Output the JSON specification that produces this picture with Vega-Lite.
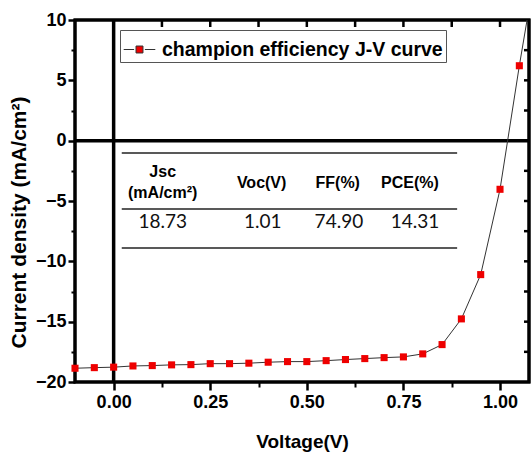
{
  "$schema": "https://vega.github.io/schema/vega-lite/v6.json",
  "width": 454,
  "height": 362,
  "autosize": "none",
  "padding": {"left": 75, "top": 20, "right": 3, "bottom": 70},
  "background": "white",
  "datasets": {
    "curve": [
      {"v": -0.1, "j": -18.86, "series": "champion efficiency J-V curve"},
      {"v": -0.05, "j": -18.81, "series": "champion efficiency J-V curve"},
      {"v": 0.0, "j": -18.77, "series": "champion efficiency J-V curve"},
      {"v": 0.05, "j": -18.67, "series": "champion efficiency J-V curve"},
      {"v": 0.1, "j": -18.64, "series": "champion efficiency J-V curve"},
      {"v": 0.15, "j": -18.58, "series": "champion efficiency J-V curve"},
      {"v": 0.2, "j": -18.56, "series": "champion efficiency J-V curve"},
      {"v": 0.25, "j": -18.48, "series": "champion efficiency J-V curve"},
      {"v": 0.3, "j": -18.48, "series": "champion efficiency J-V curve"},
      {"v": 0.35, "j": -18.44, "series": "champion efficiency J-V curve"},
      {"v": 0.4, "j": -18.36, "series": "champion efficiency J-V curve"},
      {"v": 0.45, "j": -18.31, "series": "champion efficiency J-V curve"},
      {"v": 0.5, "j": -18.31, "series": "champion efficiency J-V curve"},
      {"v": 0.55, "j": -18.23, "series": "champion efficiency J-V curve"},
      {"v": 0.6, "j": -18.14, "series": "champion efficiency J-V curve"},
      {"v": 0.65, "j": -18.06, "series": "champion efficiency J-V curve"},
      {"v": 0.7, "j": -17.98, "series": "champion efficiency J-V curve"},
      {"v": 0.75, "j": -17.92, "series": "champion efficiency J-V curve"},
      {"v": 0.8, "j": -17.67, "series": "champion efficiency J-V curve"},
      {"v": 0.85, "j": -16.9, "series": "champion efficiency J-V curve"},
      {"v": 0.9, "j": -14.77, "series": "champion efficiency J-V curve"},
      {"v": 0.95, "j": -11.1, "series": "champion efficiency J-V curve"},
      {"v": 1.0, "j": -4.03, "series": "champion efficiency J-V curve"},
      {"v": 1.05, "j": 6.21, "series": "champion efficiency J-V curve"},
      {"v": 1.1, "j": 15.7, "series": "champion efficiency J-V curve"}
    ],
    "tablelines": [
      {"x1": 0.021, "x2": 0.889, "y": -1.02},
      {"x1": 0.021, "x2": 0.889, "y": -5.66},
      {"x1": 0.021, "x2": 0.889, "y": -8.89}
    ],
    "header": [
      {"x": 0.127, "y": -2.59, "label": "Jsc"},
      {"x": 0.127, "y": -4.33, "label": "(mA/cm²)"},
      {"x": 0.383, "y": -3.5, "label": "Voc(V)"},
      {"x": 0.58, "y": -3.5, "label": "FF(%)"},
      {"x": 0.767, "y": -3.5, "label": "PCE(%)"}
    ],
    "cells": [
      {"x": 0.127, "y": -6.74, "label": "18.73"},
      {"x": 0.386, "y": -6.74, "label": "1.01"},
      {"x": 0.583, "y": -6.74, "label": "74.90"},
      {"x": 0.78, "y": -6.74, "label": "14.31"}
    ],
    "frame": [
      {"seg": "f", "o": 0, "x": -0.1, "y": -20},
      {"seg": "f", "o": 1, "x": 1.075, "y": -20},
      {"seg": "f", "o": 2, "x": 1.075, "y": 10},
      {"seg": "f", "o": 3, "x": -0.1, "y": 10},
      {"seg": "f", "o": 4, "x": -0.1, "y": -20}
    ],
    "ticks": [
      {"seg": "t1", "o": 0, "x": 0.125, "y": 10}, {"seg": "t1", "o": 1, "x": 0.125, "y": 9.42},
      {"seg": "t2", "o": 0, "x": 0.25, "y": 10}, {"seg": "t2", "o": 1, "x": 0.25, "y": 9.42},
      {"seg": "t3", "o": 0, "x": 0.375, "y": 10}, {"seg": "t3", "o": 1, "x": 0.375, "y": 9.42},
      {"seg": "t4", "o": 0, "x": 0.5, "y": 10}, {"seg": "t4", "o": 1, "x": 0.5, "y": 9.42},
      {"seg": "t5", "o": 0, "x": 0.625, "y": 10}, {"seg": "t5", "o": 1, "x": 0.625, "y": 9.42},
      {"seg": "t6", "o": 0, "x": 0.75, "y": 10}, {"seg": "t6", "o": 1, "x": 0.75, "y": 9.42},
      {"seg": "t7", "o": 0, "x": 0.875, "y": 10}, {"seg": "t7", "o": 1, "x": 0.875, "y": 9.42},
      {"seg": "t8", "o": 0, "x": 1.0, "y": 10}, {"seg": "t8", "o": 1, "x": 1.0, "y": 9.42},
      {"seg": "r1", "o": 0, "x": 1.075, "y": -17.5}, {"seg": "r1", "o": 1, "x": 1.062, "y": -17.5},
      {"seg": "r2", "o": 0, "x": 1.075, "y": -15}, {"seg": "r2", "o": 1, "x": 1.062, "y": -15},
      {"seg": "r3", "o": 0, "x": 1.075, "y": -12.5}, {"seg": "r3", "o": 1, "x": 1.062, "y": -12.5},
      {"seg": "r4", "o": 0, "x": 1.075, "y": -10}, {"seg": "r4", "o": 1, "x": 1.062, "y": -10},
      {"seg": "r5", "o": 0, "x": 1.075, "y": -7.5}, {"seg": "r5", "o": 1, "x": 1.062, "y": -7.5},
      {"seg": "r6", "o": 0, "x": 1.075, "y": -5}, {"seg": "r6", "o": 1, "x": 1.062, "y": -5},
      {"seg": "r7", "o": 0, "x": 1.075, "y": -2.5}, {"seg": "r7", "o": 1, "x": 1.062, "y": -2.5},
      {"seg": "r8", "o": 0, "x": 1.075, "y": 2.5}, {"seg": "r8", "o": 1, "x": 1.062, "y": 2.5},
      {"seg": "r9", "o": 0, "x": 1.075, "y": 5}, {"seg": "r9", "o": 1, "x": 1.062, "y": 5},
      {"seg": "r10", "o": 0, "x": 1.075, "y": 7.5}, {"seg": "r10", "o": 1, "x": 1.062, "y": 7.5}
    ]
  },
  "layer": [
    {
      "data": {"values": [{}]},
      "mark": {"type": "rule", "stroke": "black", "strokeWidth": 3.5},
      "encoding": {
        "y": {"datum": 0, "type": "quantitative", "scale": {"domain": [-20, 10], "nice": false, "zero": false}, "axis": null}
      }
    },
    {
      "data": {"values": [{}]},
      "mark": {"type": "rule", "stroke": "black", "strokeWidth": 3.5},
      "encoding": {
        "x": {"datum": 0, "type": "quantitative", "scale": {"domain": [-0.1, 1.075], "nice": false, "zero": false}, "axis": null}
      }
    },
    {
      "data": {"name": "frame"},
      "mark": {"type": "line", "stroke": "black", "strokeWidth": 3, "strokeCap": "square", "strokeJoin": "miter"},
      "encoding": {
        "x": {"field": "x", "type": "quantitative", "axis": null},
        "y": {"field": "y", "type": "quantitative", "axis": null},
        "order": {"field": "o"},
        "detail": {"field": "seg"}
      }
    },
    {
      "data": {"name": "ticks"},
      "mark": {"type": "line", "stroke": "black", "strokeWidth": 2.5},
      "encoding": {
        "x": {"field": "x", "type": "quantitative", "axis": null},
        "y": {"field": "y", "type": "quantitative", "axis": null},
        "order": {"field": "o"},
        "detail": {"field": "seg"}
      }
    },
    {
      "data": {"name": "tablelines"},
      "mark": {"type": "rule", "stroke": "#222", "strokeWidth": 1.5},
      "encoding": {
        "x": {"field": "x1", "type": "quantitative", "axis": null},
        "x2": {"field": "x2"},
        "y": {"field": "y", "type": "quantitative", "axis": null}
      }
    },
    {
      "data": {"name": "header"},
      "mark": {"type": "text", "font": "Liberation Sans", "fontWeight": "bold", "fontSize": 16, "color": "black", "align": "center", "baseline": "middle"},
      "encoding": {
        "x": {"field": "x", "type": "quantitative", "axis": null},
        "y": {"field": "y", "type": "quantitative", "axis": null},
        "text": {"field": "label"}
      }
    },
    {
      "data": {"name": "cells"},
      "mark": {"type": "text", "font": "Lato", "fontSize": 19, "color": "#111", "align": "center", "baseline": "middle"},
      "encoding": {
        "x": {"field": "x", "type": "quantitative", "axis": null},
        "y": {"field": "y", "type": "quantitative", "axis": null},
        "text": {"field": "label"}
      }
    },
    {
      "data": {"name": "curve"},
      "mark": {"type": "line", "stroke": "#333", "strokeWidth": 1, "clip": true},
      "encoding": {
        "x": {"field": "v", "type": "quantitative",
          "axis": {"orient": "bottom", "domain": false, "ticks": true, "tickColor": "black", "tickWidth": 2.5, "tickSize": 8, "values": [0, 0.25, 0.5, 0.75, 1.0], "format": ".2f", "labelFontSize": 18, "labelPadding": 3, "labelFlush": false,
            "title": "Voltage(V)", "titleFontSize": 19, "titlePadding": 21}},
        "y": {"field": "j", "type": "quantitative",
          "axis": {"orient": "left", "domain": false, "ticks": true, "tickColor": "black", "tickWidth": 2.5, "tickSize": 7, "values": [-20, -15, -10, -5, 0, 5, 10], "labelFontSize": 18, "labelPadding": 2,
            "title": "Current density (mA/cm²)", "titleFontSize": 21, "titlePadding": 6, "titleY": 202}}
      }
    },
    {
      "data": {"name": "curve"},
      "transform": [{"filter": "datum.v <= 1.06"}],
      "mark": {"type": "point", "shape": "square", "filled": true, "size": 50, "opacity": 1},
      "encoding": {
        "x": {"field": "v", "type": "quantitative",
          "axis": {"orient": "bottom", "domain": false, "ticks": true, "tickColor": "black", "tickWidth": 2, "tickSize": 5, "values": [0.125, 0.375, 0.625, 0.875], "labels": false, "title": null}},
        "y": {"field": "j", "type": "quantitative",
          "axis": {"orient": "left", "domain": false, "ticks": true, "tickColor": "black", "tickWidth": 2, "tickSize": 4, "values": [-17.5, -12.5, -7.5, -2.5, 2.5, 7.5], "labels": false, "title": null}},
        "color": {"field": "series", "type": "nominal",
          "scale": {"range": ["#ee0000"]},
          "legend": {"orient": "none", "legendX": 45, "legendY": 10, "title": null,
            "strokeColor": "#555", "padding": 3,
            "symbolType": "M-1,0H-0.34M0.34,0H1M-0.22,-0.22H0.22V0.22H-0.22Z",
            "symbolSize": 1000, "symbolStrokeColor": "#333", "symbolStrokeWidth": 1, "symbolOpacity": 1,
            "labelFont": "Liberation Sans", "labelFontSize": 19.5, "labelFontWeight": "bold", "labelColor": "black", "labelOffset": 6, "labelLimit": 400}}
      }
    }
  ],
  "resolve": {"axis": {"x": "independent", "y": "independent"}},
  "config": {
    "view": {"stroke": "black", "strokeWidth": 3},
    "axis": {"grid": false, "labelColor": "black", "titleColor": "black",
      "labelFont": "Liberation Sans", "labelFontWeight": "bold", "titleFont": "Liberation Sans", "titleFontWeight": "bold"}
  }
}
